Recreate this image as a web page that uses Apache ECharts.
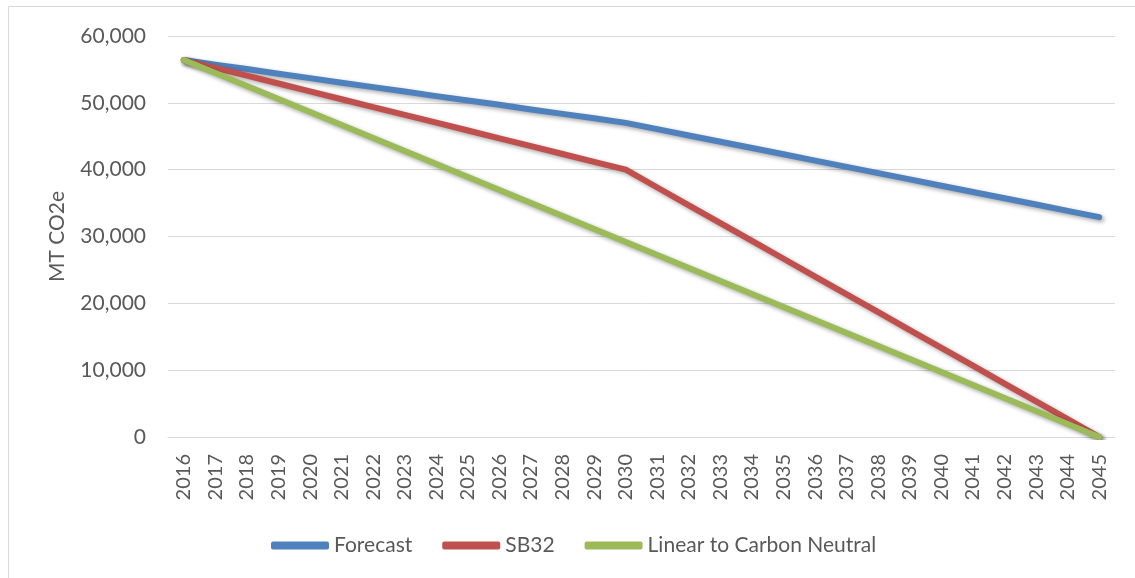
<!DOCTYPE html>
<html>
<head>
<meta charset="utf-8">
<script src="https://cdn.jsdelivr.net/npm/echarts@6/dist/echarts.min.js"></script>
<style>
html,body{margin:0;padding:0;background:#fff;}
#c{width:1135px;height:578px;}
</style>
</head>
<body>
<div id="c"></div>
<script>
const years = ['2016','2017','2018','2019','2020','2021','2022','2023','2024','2025','2026','2027','2028','2029','2030','2031','2032','2033','2034','2035','2036','2037','2038','2039','2040','2041','2042','2043','2044','2045'];
const forecast = [56400,55700,55050,54350,53700,53000,52350,51700,51000,50350,49700,49000,48350,47700,47000,46060,45120,44180,43240,42300,41360,40420,39480,38540,37600,36660,35720,34780,33840,32900];
const sb32 = [56400,55230,54060,52890,51710,50540,49370,48200,47030,45860,44690,43510,42340,41170,40000,37330,34670,32000,29330,26670,24000,21330,18670,16000,13330,10670,8000,5330,2670,0];
const linear = [56400,54455,52510,50566,48621,46676,44731,42786,40841,38897,36952,35007,33062,31117,29172,27228,25283,23338,21393,19448,17503,15559,13614,11669,9724,7779,5834,3890,1945,0];
const seriesNames = ['Forecast','SB32','Linear to Carbon Neutral'];
const colors = ['#4F81BD','#C0504D','#9BBB59'];

const chart = echarts.init(document.getElementById('c'));
const font = 'Lato, "Open Sans", sans-serif';
function mk(name, data, color){
  return {
    name: name, type: 'line', data: data, symbol: 'none', smooth: false,
    lineStyle: {width: 6, color: color, cap: 'round', join: 'round',
      shadowColor: 'rgba(0,0,0,0.35)', shadowBlur: 4, shadowOffsetX: 2, shadowOffsetY: 2},
    itemStyle: {color: color}
  };
}
chart.setOption({
  animation: false,
  color: colors,
  graphic: [
    {type:'line', shape:{x1:8.5, y1:6.5, x2:1135, y2:6.5}, style:{stroke:'#d9d9d9', lineWidth:1}, silent:true},
    {type:'line', shape:{x1:8.5, y1:6.5, x2:8.5, y2:578}, style:{stroke:'#d9d9d9', lineWidth:1}, silent:true}
  ],
  grid: {left: 168, right: 20, top: 36, bottom: 141},
  legend: {
    left: 266, top: 530, itemWidth: 58, itemHeight: 8, itemGap: 30, icon: 'roundRect',
    textStyle: {fontFamily: font, fontSize: 21, color: '#595959'},
    data: seriesNames
  },
  xAxis: {
    type: 'category', data: years, boundaryGap: true,
    axisLine: {lineStyle: {color: '#d9d9d9', width: 1}},
    axisTick: {show: false},
    axisLabel: {rotate: 90, interval: 0, margin: 17, fontFamily: font, fontSize: 20, color: '#595959'}
  },
  yAxis: {
    type: 'value', min: 0, max: 60000, interval: 10000,
    name: 'MT CO2e', nameLocation: 'middle', nameGap: 100,
    nameTextStyle: {fontFamily: font, fontSize: 21, color: '#595959'},
    axisLine: {show: false}, axisTick: {show: false},
    splitLine: {lineStyle: {color: '#d9d9d9', width: 1}},
    axisLabel: {margin: 22, fontFamily: font, fontSize: 21, color: '#595959',
      formatter: v => v.toLocaleString('en-US')}
  },
  series: [mk(seriesNames[0], forecast, colors[0]), mk(seriesNames[1], sb32, colors[1]), mk(seriesNames[2], linear, colors[2])]
});
</script>
</body>
</html>
